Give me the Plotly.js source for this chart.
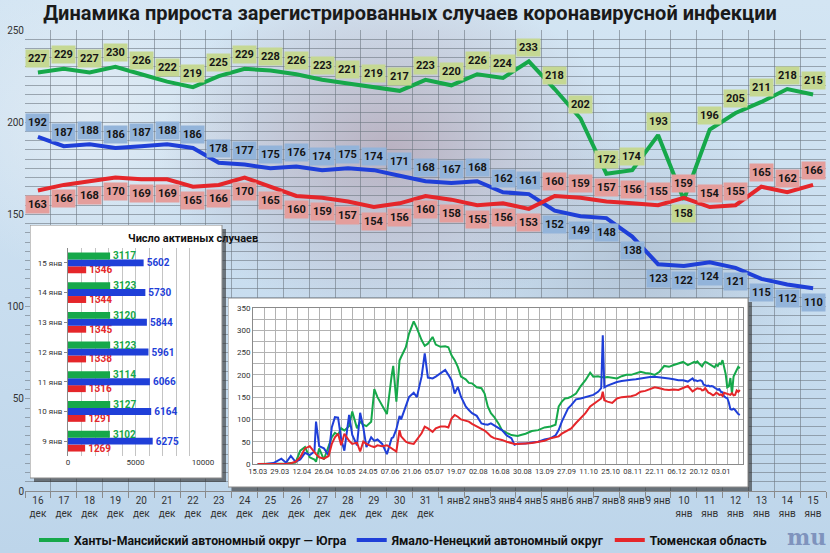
<!DOCTYPE html>
<html>
<head>
<meta charset="utf-8">
<script src="https://cdn.plot.ly/plotly-3.0.1.min.js"></script>
<style>
html,body{margin:0;padding:0;}
#myDiv{width:830px;height:553px;
 background:
  radial-gradient(ellipse 230px 170px at 390px 150px, rgba(160,120,135,0.45), rgba(160,120,135,0)),
  radial-gradient(ellipse 180px 140px at 640px 260px, rgba(140,150,170,0.35), rgba(140,150,170,0)),
  radial-gradient(ellipse 160px 160px at 90px 120px, rgba(235,240,245,0.6), rgba(235,240,245,0)),
  linear-gradient(180deg,#d3e5f3 0%,#c8ddef 55%,#bdd5ea 100%);}
</style>
</head>
<body>
<div id="myDiv"></div>
<script>
const graphDiv = document.getElementById('myDiv')
const F = 'Roboto, "Open Sans", sans-serif'
const GREEN = '#16a84a', BLUE = '#1f3fd8', RED = '#e5262a'

// main chart: 16 dec .. 15 jan
const days = ['16<br>дек','17<br>дек','18<br>дек','19<br>дек','20<br>дек','21<br>дек','22<br>дек','23<br>дек',
  '24<br>дек','25<br>дек','26<br>дек','27<br>дек','28<br>дек','29<br>дек','30<br>дек','31<br>дек',
  '1 янв','2 янв','3 янв','4 янв','5 янв','6 янв','7 янв','8 янв','9 янв',
  '10<br>янв','11<br>янв','12<br>янв','13<br>янв','14<br>янв','15<br>янв']
const ugra   = [227,229,227,230,226,222,219,225,229,228,226,223,221,219,217,223,220,226,224,233,218,202,172,174,193,158,196,205,211,218,215]
const yanao  = [192,187,188,186,187,188,186,178,177,175,176,174,175,174,171,168,167,168,162,161,152,149,148,138,123,122,124,121,115,112,110]
const tyumen = [163,166,168,170,169,169,165,166,170,165,160,159,157,154,156,160,158,155,156,153,160,159,157,156,155,159,154,155,165,162,166]
const names = ['Ханты-Мансийский автономный округ — Югра','Ямало-Ненецкий автономный округ','Тюменская область']

// active cases inset
const actDays = ['9 янв','10 янв','11 янв','12 янв','13 янв','14 янв','15 янв']
const actUgra   = [3102,3127,3114,3123,3120,3123,3117]
const actYanao  = [6275,6164,6066,5961,5844,5730,5602]
const actTyumen = [1269,1291,1316,1338,1345,1344,1346]

// long history inset, day 0 = 15.03
const inDays = [0,5,10,15,18,21,24,27,30,33,36,37,39,42,45,47,49,51,53,55,58,60,63,65,67,69,72,74,76,79,
  82,85,86,88,90,91,94,96,99,101,104,106,108,111,113,116,119,121,123,125,127,129,132,134,136,139,142,144,146,148,
  150,153,155,158,161,163,165,167,170,174,178,182,186,189,191,193,195,197,199,202,205,208,211,213,216,218,219,220,222,225,
  228,231,234,237,240,243,246,249,252,255,258,261,264,267,270,273]
const inUgra = [0,0,0,0,1,2,3,30,38,15,10,5,35,10,40,60,70,65,80,75,85,118,80,95,88,85,95,168,150,132,
  112,198,220,140,232,240,262,292,320,305,278,265,270,285,268,263,264,262,244,233,218,196,190,182,181,172,170,158,129,114,
  106,90,76,70,65,64,63,65,68,74,76,82,84,88,129,140,147,148,151,158,175,188,205,196,197,195,194,194,195,194,
  192,197,200,200,203,207,204,203,200,207,220,218,222,226,229,222]
const inYanao = [0,0,2,12,3,18,5,10,25,20,28,95,40,35,20,82,105,104,55,30,110,65,42,115,82,38,60,52,55,45,
  22,58,60,78,108,100,130,150,160,150,196,248,194,192,196,203,211,200,188,158,173,151,129,121,114,108,91,89,88,91,
  87,80,76,64,58,43,46,46,46,48,50,55,58,64,76,95,110,125,132,145,147,150,153,155,162,170,289,172,176,180,
  184,186,188,189,190,192,193,195,196,195,193,192,190,188,188,185]
const inTyumen = [0,0,0,0,0,2,5,15,35,40,25,22,15,12,18,45,60,68,42,68,52,45,48,28,50,45,40,38,42,40,
  42,35,32,28,76,62,50,47,45,55,69,84,80,72,80,84,84,82,102,110,106,100,97,95,90,85,80,75,69,62,
  58,56,54,50,46,45,45,46,46,47,50,52,58,60,62,68,72,76,80,92,102,114,129,134,140,147,162,143,140,137,
  147,150,151,152,155,162,164,168,172,170,167,166,167,166,170,175]
const inTicks = ['15.03','29.03','12.04','26.04','10.05','24.05','07.06','21.06','05.07','19.07','02.08','16.08',
  '30.08','13.09','27.09','11.10','25.10','08.11','22.11','06.12','20.12','03.01']

const idx = days.map((d,i)=>i)
// last 31 days of the inset are the same numbers as the main chart (16.12 = day 276)
const tailDays = idx.map(i=>276+i)
const hx = inDays.concat(tailDays)

// page geometry helpers (plot area 25..826 x 30..491 px)
const PL = 25, PW = 801, PB = 491, PH = 461
const px2x = px => (px-PL)/PW
const py2y = py => (PB-py)/PH
const fx = px => Math.max(0,Math.min(1,px2x(px)))
const fy = py => Math.max(0,Math.min(1,py2y(py)))

function mainLine(y,color,name){
    return {x:idx, y:y, type:'scatter', mode:'lines', name:'<b>'+name+'</b>',
        line:{color:color,width:4}, hoverinfo:'none'}
}
function inLine(y,color){
    return {x:hx, y:y, xaxis:'x5', yaxis:'y5', type:'scatter', mode:'lines', showlegend:false,
        line:{color:color,width:2}, hoverinfo:'none'}
}
function actBar(v,color){
    return {y:actDays, x:v, xaxis:'x4', yaxis:'y4', type:'bar', orientation:'h', showlegend:false,
        marker:{color:color}, text:v.map(v=>'<b>'+v+'</b>'), textposition:'outside', cliponaxis:false,
        constraintext:'none', textfont:{family:F,size:10,color:color}, hoverinfo:'none'}
}
// white inset panel with a drop shadow, drawn on its own hidden axes
function panel(ax,px0,py0,px1,py1){
    const sh = 4, w = px1-px0, h = py1-py0
    const bx = (w-sh)/w, by = sh/h
    return [
        {x:[1-bx,1,1,1-bx,1-bx], y:[0,0,1-by,1-by,0], xaxis:'x'+ax, yaxis:'y'+ax, type:'scatter', mode:'lines',
         fill:'toself', fillcolor:'rgba(45,45,45,0.6)', line:{width:0}, showlegend:false, hoverinfo:'none'},
        {x:[0,bx,bx,0,0], y:[by,by,1,1,by], xaxis:'x'+ax, yaxis:'y'+ax, type:'scatter', mode:'lines',
         fill:'toself', fillcolor:'#ffffff', line:{width:1,color:'#8a8a8a'}, showlegend:false, hoverinfo:'none'},
    ]
}
function panelAxes(px0,py0,px1,py1){
    return [
        {domain:[fx(px0),fx(px1)], range:[0,1], visible:false, fixedrange:true},
        {domain:[fy(py1),fy(py0)], range:[0,1], visible:false, fixedrange:true},
    ]
}
const barBox = [30,225,226,482], lineBox = [228,298,752,492]
const [bxA,byA] = panelAxes(...barBox)
const [lxA,lyA] = panelAxes(...lineBox)
bxA.anchor='y2'; byA.anchor='x2'; lxA.anchor='y3'; lyA.anchor='x3'

const data = [
    mainLine(ugra,GREEN,names[0]),
    mainLine(yanao,BLUE,names[1]),
    mainLine(tyumen,RED,names[2]),
    ...panel(2,...barBox),
    ...panel(3,...lineBox),
    actBar(actTyumen,RED), actBar(actYanao,BLUE), actBar(actUgra,GREEN),
    inLine(inUgra.concat(ugra),GREEN),
    inLine(inYanao.concat(yanao),BLUE),
    inLine(inTyumen.concat(tyumen),RED),
]

function labels(vals,other,bg){
    return vals.map((v,i)=>({xref:'x',yref:'y',x:i,y:v,text:'<b>'+v+'</b>',showarrow:false,
        bgcolor:bg,borderpad:2,font:{family:F,size:11,color:'#151515'},yshift: v>other[i]?14:-14}))
}
let ann = [].concat(labels(ugra,tyumen,'#c5d893'),labels(yanao,tyumen,'#93b4da'),labels(tyumen,yanao,'#e49e9c'))
ann.push({xref:'paper',yref:'paper',x:px2x(126),y:py2y(238),text:'<b>Число активных случаев</b>',showarrow:false,
    font:{family:F,size:11,color:'#111'}})
ann.push({xref:'paper',yref:'paper',x:px2x(806),y:py2y(537),xanchor:'center',yanchor:'middle',
    text:'<b>mu</b>',showarrow:false,font:{family:'DejaVu Serif',size:22,color:'#7f93bd'}})

const GRID = 'rgba(110,120,130,0.6)'
const layout = {
    width:830, height:553,
    margin:{l:PL,r:830-PL-PW,t:PB-PH,b:553-PB,autoexpand:false},
    paper_bgcolor:'rgba(0,0,0,0)',
    plot_bgcolor:'rgba(0,0,0,0)',
    font:{family:F,color:'#333'},
    title:{text:'<b>Динамика прироста зарегистрированных случаев коронавирусной инфекции</b>',
        font:{family:F,size:20,color:'#1a1a1a'},x:0.494,xanchor:'center',y:0.976,yanchor:'middle'},
    showlegend:true,
    legend:{orientation:'h',x:px2x(403),xanchor:'center',y:py2y(540),yanchor:'middle',bgcolor:'rgba(0,0,0,0)',
        font:{family:F,size:12.3,color:'#111'}},
    bargap:0.3, bargroupgap:0,
    xaxis:{range:[-0.5,30.5],tickmode:'array',tickvals:idx,ticktext:days,tickangle:0,showgrid:false,zeroline:false,
        showline:true,linecolor:'#8a8a8a',ticks:'',tickfont:{size:10,color:'#333'},
        minor:{tickmode:'linear',tick0:-0.5,dtick:1,showgrid:true,gridcolor:GRID,gridwidth:1,
            ticks:'outside',ticklen:6,tickcolor:'#8a8a8a'}},
    yaxis:{range:[0,250],dtick:50,showgrid:true,gridcolor:GRID,zeroline:false,tickfont:{size:10,color:'#333'},
        minor:{dtick:5,showgrid:true,gridcolor:GRID,gridwidth:1}},
    xaxis2:bxA, yaxis2:byA, xaxis3:lxA, yaxis3:lyA,
    xaxis4:{domain:[fx(68),fx(203)],anchor:'y4',range:[0,10000],tickvals:[0,5000,10000],ticktext:['0','5000','10000'],
        tickangle:0,showgrid:false,zeroline:false,tickfont:{size:8,color:'#333'},
        minor:{tickmode:'linear',tick0:0,dtick:1000,showgrid:true,gridcolor:'#c4c4c4'}},
    yaxis4:{domain:[fy(456),fy(248)],anchor:'x4',type:'category',showgrid:false,showline:true,linecolor:'#8a8a8a',
        tickfont:{size:8,color:'#333'},ticks:'outside',ticklen:3,tickcolor:'#8a8a8a'},
    xaxis5:{domain:[fx(253),fx(743)],anchor:'y5',range:[-3,308],tickmode:'array',tickangle:0,
        tickvals:inTicks.map((t,i)=>i*14),ticktext:inTicks,showgrid:false,zeroline:false,
        showline:true,mirror:true,linecolor:'#8a8a8a',tickfont:{size:7.5,color:'#333'},
        minor:{tickmode:'linear',tick0:-3,dtick:7,showgrid:true,gridcolor:'#b2b2b2'}},
    yaxis5:{domain:[fy(464),fy(308)],anchor:'x5',range:[0,350],dtick:50,showgrid:true,gridcolor:'#b2b2b2',
        zeroline:false,showline:true,mirror:true,linecolor:'#8a8a8a',tickfont:{size:8,color:'#333'},
        minor:{dtick:25,showgrid:true,gridcolor:'#b2b2b2'}},
    annotations:ann,
}
const config = {displayModeBar:false,staticPlot:true}
Plotly.newPlot(graphDiv,data,layout,config)
</script>
</body>
</html>
